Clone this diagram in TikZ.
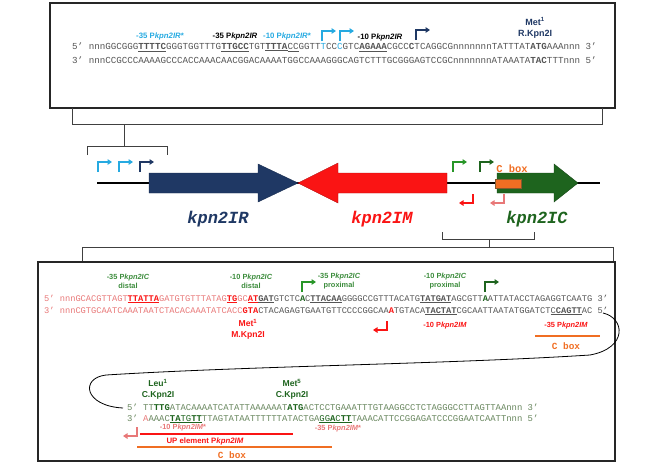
\documentclass[tikz,border=0pt]{standalone}
\usepackage{fontspec}
\setmainfont{Liberation Sans}
\setsansfont{Liberation Sans}
\setmonofont{Liberation Mono}
\usetikzlibrary{arrows.meta}

\definecolor{navy}{RGB}{31,56,100}
\definecolor{irblue}{RGB}{38,170,225}
\definecolor{imred}{RGB}{250,20,20}
\definecolor{pinkred}{RGB}{232,120,120}
\definecolor{icgreen}{RGB}{30,100,30}
\definecolor{tssgreen}{RGB}{40,150,40}
\definecolor{lblgreen}{RGB}{60,140,60}
\definecolor{cboxorange}{RGB}{240,110,35}
\definecolor{seqgray}{RGB}{85,85,85}
\definecolor{seqgreen}{RGB}{105,135,95}

\newcommand{\bxu}[1]{\textbf{\underline{#1}}}
\newcommand{\pinks}[1]{\textcolor{pinkred}{#1}}
\newcommand{\redb}[1]{\textcolor{imred}{\textbf{#1}}}
\newcommand{\redbu}[1]{\textcolor{imred}{\textbf{\underline{#1}}}}
\newcommand{\grnb}[1]{\textcolor{icgreen}{\textbf{#1}}}
\newcommand{\grnbu}[1]{\textcolor{icgreen}{\textbf{\underline{#1}}}}
\newcommand{\grnu}[1]{\textcolor{icgreen}{\underline{#1}}}
\newcommand{\blues}[1]{\textcolor{irblue}{#1}}
\newcommand{\tssup}[3]{\draw[tss,#3] (#1,#2) -- ++(0,-10) -- ++(14,0);}
\newcommand{\tssdown}[3]{\draw[tss,#3] (#1,#2) -- ++(0,9) -- ++(-14,0);}

\begin{document}
\begin{tikzpicture}
[x=1pt,y=-1pt,%
  seq/.style={font=\fontsize{9.2}{11}\selectfont\ttfamily,text=seqgray,inner sep=0pt,anchor=west},%
  lbl/.style={font=\fontsize{7.4}{8.8}\selectfont\sffamily\bfseries,inner sep=0pt,align=center},%
  big/.style={font=\fontsize{8.6}{10.4}\selectfont\sffamily\bfseries,inner sep=0pt,align=center},%
  gene/.style={font=\fontsize{17}{20}\selectfont\ttfamily\bfseries\itshape,inner sep=0pt},%
  cbox/.style={font=\fontsize{9.4}{11}\selectfont\ttfamily\bfseries,text=cboxorange,inner sep=0pt},%
  panel/.style={draw=black!85,line width=1.6pt},%
  brace/.style={draw=black!75,line width=0.9pt},%
  tss/.style={line width=1.7pt,-{Triangle[length=4.5pt,width=5.5pt]}},%
  gen/.style={line width=0.8pt}]
\useasboundingbox (0,0) rectangle (672,467);

% upper panel
\draw[panel] (50,3) rectangle (615,108);
\node[seq] (r5) at (72,47) {5’ nnnGGCGGG\bxu{TTTTC}GGGTGGTTTG\bxu{TTGCC}TGT\bxu{TTTA}\underline{CC}GGTT\blues{T}CC\blues{C}GTC\bxu{AGAAA}CGCC\textbf{C}TCAGGCGnnnnnnnTATTTAT\textbf{ATG}AAAnnn 3’};
\node[seq] (r3) at (72,60) {3’ nnnCCGCCCAAAAGCCCACCAAACAACGGACAAAATGGCCAAAGGGCAGTCTTTGCGGGAGTCCGCnnnnnnnATAAATA\textbf{TAC}TTTnnn 5’};
\node[lbl,font=\fontsize{7.8}{9}\selectfont\sffamily\bfseries,text=irblue] (r35s) at (160,36) {-35 P\textit{kpn2IR}*};
\node[lbl,font=\fontsize{7.8}{9}\selectfont\sffamily\bfseries] (r35) at (235,36) {-35 P\textit{kpn2IR}};
\node[lbl,font=\fontsize{7.8}{9}\selectfont\sffamily\bfseries,text=irblue] (r10s) at (287,36) {-10 P\textit{kpn2IR}*};
\node[lbl,font=\fontsize{7.8}{9}\selectfont\sffamily\bfseries] (r10) at (380,37) {-10 P\textit{kpn2IR}};
\tssup{322}{41}{irblue}
\tssup{340}{41}{irblue}
\tssup{416}{40}{navy}
\node[big,font=\fontsize{9}{11}\selectfont\sffamily\bfseries,text=navy] (rmet) at (535,28) {Met\textsuperscript{1}\\R.Kpn2I};

% zoom lines to the map
\draw[brace] (72,108) -- (72,124) -- (602,124) -- (602,108);
\draw[brace] (124,124) -- (124,146);
\draw[brace] (87,155) -- (87,146) -- (167,146) -- (167,155);

% gene map
\draw[line width=2.4pt] (97,183) -- (600,183);
\filldraw[fill=navy,draw=navy!80!black] (149,173) -- (258,173) -- (258,164) -- (298,183) -- (258,202) -- (258,193) -- (149,193) -- cycle;
\filldraw[fill=imred,draw=imred!70!black] (447,173) -- (338,173) -- (338,163) -- (298,183) -- (338,203) -- (338,193) -- (447,193) -- cycle;
\filldraw[fill=icgreen,draw=icgreen!70!black] (497,173) -- (554,173) -- (554,164) -- (578,183) -- (554,202) -- (554,193) -- (497,193) -- cycle;
\filldraw[fill=cboxorange,draw=brown!70!black,line width=0.6pt] (495,179) rectangle (521,188);
\node[cbox,font=\fontsize{10.5}{12}\selectfont\ttfamily\bfseries] (cb1) at (512,169) {C box};
\tssup{98}{172}{irblue}
\tssup{119}{172}{irblue}
\tssup{140}{172}{navy}
\tssup{453}{172}{tssgreen}
\tssup{480}{172}{icgreen}
\tssdown{473}{194}{imred}
\tssdown{504}{194}{pinkred}
\node[gene,text=navy] (irlab) at (218,219) {kpn2IR};
\node[gene,text=imred] (imlab) at (382,219) {kpn2IM};
\node[gene,text=icgreen] (iclab) at (537,219) {kpn2IC};

% zoom lines to the lower panel
\draw[brace] (442,232) -- (442,239) -- (534,239) -- (534,232);
\draw[brace] (489,239) -- (489,247);
\draw[brace] (82,262) -- (82,247) -- (613,247) -- (613,262);

% lower panel
\draw[panel] (38,262) rectangle (615,461);
\node[seq,font=\fontsize{8.7}{11}\selectfont\ttfamily] (ma) at (44,299) {\pinks{5’ nnnGCACGTTAGT}\redbu{TTATTA}\pinks{GATGTGTTTATAG}\redbu{TG}\pinks{GC}\redbu{AT}\bxu{GAT}GTCTC\grnb{A}C\bxu{TTACAA}GGGGCCGTTTACATG\bxu{TATGAT}AGCGTT\grnb{A}ATTATACCTAGAGGTCAATG 3’};
\node[seq,font=\fontsize{8.7}{11}\selectfont\ttfamily] (mb) at (44,311) {\pinks{3’ nnnCGTGCAATCAAATAATCTACACAAATATCACC}\redb{GTA}CTACAGAGTGAATGTTCCCCGGCAA\redb{A}TGTACA\bxu{TACTAT}CGCAATTAATATGGATCT\underline{C}\bxu{CAGTT}AC 5’};
\node[lbl,text=lblgreen] (d35) at (128,281) {-35 P\textit{kpn2IC}\\distal};
\node[lbl,text=lblgreen] (d10) at (251,281) {-10 P\textit{kpn2IC}\\distal};
\node[lbl,text=lblgreen] (p35) at (339,281) {-35 P\textit{kpn2IC}\\proximal};
\node[lbl,text=lblgreen] (p10) at (445,281) {-10 P\textit{kpn2IC}\\proximal};
\tssup{302}{292}{tssgreen}
\tssup{485}{292}{icgreen}
\node[big,text=imred] (mmet) at (248,329) {Met\textsuperscript{1}\\M.Kpn2I};
\tssdown{387}{321}{imred}
\node[lbl,text=imred] (m10) at (445,326) {-10 P\textit{kpn2IM}};
\node[lbl,text=imred] (m35) at (566,326) {-35 P\textit{kpn2IM}};
\draw[cboxorange,line width=2.2pt] (535,336) -- (600,336);
\node[cbox] (cb2) at (566,346) {C box};

% strand continues on the next row
\draw[gen] (603,313) .. controls (625,318) and (628,348) .. (590,355) .. controls (450,364) and (250,366) .. (106,375) .. controls (80,378) and (84,406) .. (123,408);

\node[seq,font=\fontsize{8.9}{11}\selectfont\ttfamily,text=seqgreen] (ca) at (127,407) {5’ TT\grnb{TTG}ATACAAAATCATATTAAAAAAT\grnb{ATG}ACTCCTGAAATTTGTAAGGCCTCTAGGGCCTTAGTTAAnnn 3’};
\node[seq,font=\fontsize{8.9}{11}\selectfont\ttfamily,text=seqgreen] (cb) at (127,419) {3’ \pinks{A}AAAC\grnbu{TA}\grnu{TG}\grnbu{TT}TTAGTATAATTTTTTATACTGA\grnu{GG}\grnbu{A}\grnu{C}\grnbu{TT}TAAACATTCCGGAGATCCCGGAATCAATTnnn 5’};
\node[big,text=icgreen] (leu) at (158,389) {Leu\textsuperscript{1}\\C.Kpn2I};
\node[big,text=icgreen] (met5) at (292,389) {Met\textsuperscript{5}\\C.Kpn2I};
\node[lbl,text=pinkred] (m10s) at (183,428) {-10 P\textit{kpn2IM}*};
\node[lbl,text=pinkred] (m35s) at (338,429) {-35 P\textit{kpn2IM}*};
\draw[imred,line width=2.2pt] (140,434) -- (293,434);
\tssdown{137}{427}{pinkred}
\node[lbl,font=\fontsize{7.8}{9}\selectfont\sffamily\bfseries,text=imred] (upel) at (205,441) {UP element P\textit{kpn2IM}};
\draw[cboxorange,line width=2.2pt] (137,447) -- (332,447);
\node[cbox] (cb3) at (232,455) {C box};
\end{tikzpicture}
\end{document}
